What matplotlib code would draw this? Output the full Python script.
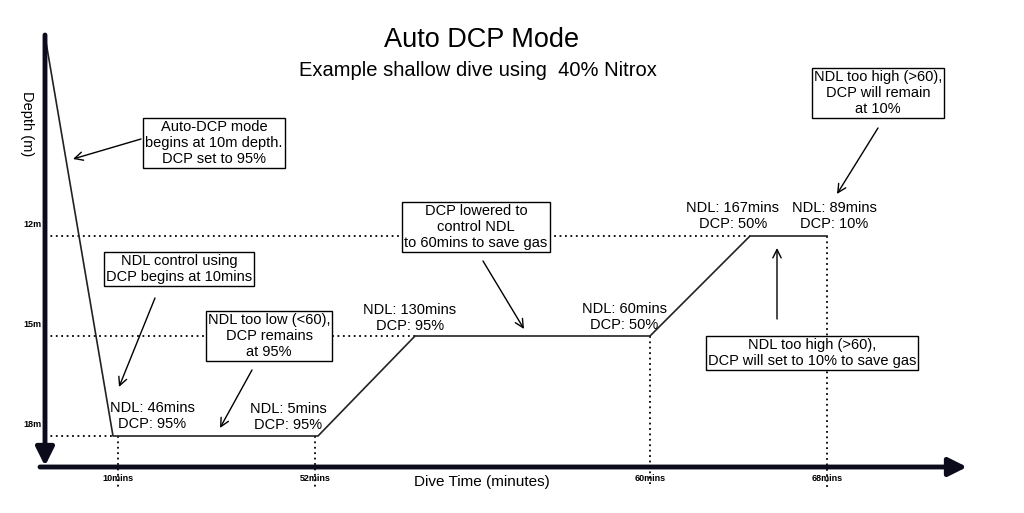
import matplotlib
matplotlib.use("Agg")
import matplotlib.pyplot as plt

plt.rcParams['font.family'] = ['Liberation Sans', 'DejaVu Sans']

# dive profile (schematic time position, depth in m)
profile_x = [45, 113, 318, 415, 650, 750, 827]
profile_depth = [6, 18, 18, 15, 15, 12, 12]

# depth gridlines: depth, x where the profile reaches it
depth_levels = [12, 15, 18]
depth_labels = ['12m', '15m', '18m']
depth_reach_x = [750, 415, 113]

# time marks
time_x = [118, 315, 650, 827]
time_depth = [18, 18, 15, 12]
time_labels = ['10mins', '52mins', '60mins', '68mins']

# NDL / DCP readings along the profile
readings = ['NDL: 46mins\nDCP: 95%', 'NDL: 5mins\nDCP: 95%', 'NDL: 130mins\nDCP: 95%',
            'NDL: 60mins\nDCP: 50%', 'NDL: 167mins\nDCP: 50%', 'NDL: 89mins\nDCP: 10%']
reading_pos = [(152, 416), (288, 417), (410, 318), (624, 317), (733, 216), (834, 216)]

# callout boxes: text, box centre, arrow start, arrow end (pixels)
notes = ['Auto-DCP mode\nbegins at 10m depth.\nDCP set to 95%',
         'NDL control using\nDCP begins at 10mins',
         'NDL too low (<60),\nDCP remains\nat 95%',
         'DCP lowered to\ncontrol NDL\nto 60mins to save gas',
         'NDL too high (>60),\nDCP will remain\nat 10%',
         'NDL too high (>60),\nDCP will set to 10% to save gas']
note_pos = [(214, 143), (179, 269), (269, 336), (476, 227), (878, 93), (812, 353)]
note_arrow_from = [(141, 139), (155, 298), (252, 370), (483, 261), (878, 128), (777, 319)]
note_arrow_to = [(73, 159), (119, 387), (220, 428), (524, 329), (837, 194), (777, 248)]

W, H = 1024, 513
fig = plt.figure(figsize=(W / 100, H / 100), dpi=100)
ax = fig.add_axes([0, 0, 1, 1])
ax.set_xlim(0, W)
# depth scale: 12m at pixel 236, 3m per 100 px
d_top = 12 - 236 / (100 / 3)
d_bot = 12 + (H - 236) / (100 / 3)
ax.set_ylim(d_bot, d_top)
ax.axis('off')


def fp(x, y):
    # pixel (top-left origin) -> figure fraction
    return (x / W, 1 - y / H)


def dpx(y):
    return 12 + (y - 236) / (100 / 3)


# profile
ax.plot(profile_x, profile_depth, color='#222222', lw=1.2, zorder=3)

# dotted reference lines
for d, lab, xr in zip(depth_levels, depth_labels, depth_reach_x):
    ax.plot([45, xr], [d, d], color='black', lw=1.3, ls=(0, (1, 2)), zorder=2)
    ax.text(32, d - 0.2, lab, fontsize=6.5, fontweight='bold', ha='center', va='bottom')
for x, d, lab in zip(time_x, time_depth, time_labels):
    ax.plot([x, x], [d, dpx(487)], color='black', lw=1.3, ls=(0, (1, 2)), zorder=2)
    ax.text(x, dpx(479), lab, fontsize=6.5, fontweight='bold', ha='center', va='center',
            zorder=4)

# axis arrows
axis_col = '#0b0b1c'
ax.annotate('', xy=(45, dpx(466)), xytext=(45, dpx(35)),
            arrowprops=dict(arrowstyle='-|>,head_length=1.1,head_width=0.55', lw=3.5,
                            color=axis_col, shrinkA=0, shrinkB=0))
ax.annotate('', xy=(967, dpx(467)), xytext=(40, dpx(467)),
            arrowprops=dict(arrowstyle='-|>,head_length=1.1,head_width=0.55', lw=3.5,
                            color=axis_col, shrinkA=0, shrinkB=0))

# titles and axis labels
fig.text(*fp(482, 40), 'Auto DCP Mode', fontsize=19.5, ha='center', va='center')
fig.text(*fp(478, 71), 'Example shallow dive using  40% Nitrox', fontsize=14.5,
         ha='center', va='center')
fig.text(*fp(482, 482), 'Dive Time (minutes)', fontsize=11, ha='center', va='center')
fig.text(*fp(27, 124), 'Depth (m)', fontsize=10.5, rotation=-90, ha='center', va='center')

# readings
for txt, (x, y) in zip(readings, reading_pos):
    fig.text(*fp(x, y), txt, fontsize=10.5, ha='center', va='center', linespacing=1.15)

# callouts
for txt, (x, y), a0, a1 in zip(notes, note_pos, note_arrow_from, note_arrow_to):
    fig.text(*fp(x, y), txt, fontsize=10.5, ha='center', va='center', linespacing=1.15,
             bbox=dict(boxstyle='square,pad=0.15', fc='white', ec='black', lw=1))
    fig.add_artist(matplotlib.patches.FancyArrowPatch(
        fp(*a0), fp(*a1), transform=fig.transFigure, arrowstyle='->,head_length=6,head_width=3',
        lw=1, color='black', shrinkA=0, shrinkB=0))

fig.savefig('out.png', dpi=100, facecolor='white')
